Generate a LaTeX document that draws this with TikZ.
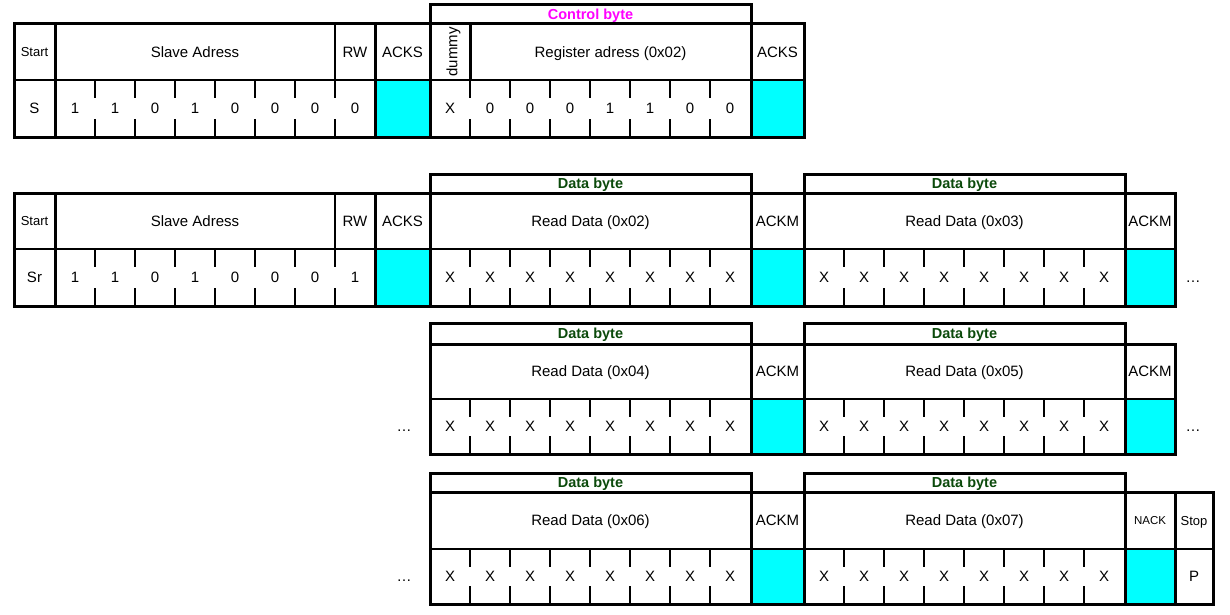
\documentclass[tikz,border=0pt]{standalone}
\usepackage{fontspec}
\setmainfont{Liberation Sans}
\definecolor{ackcyan}{HTML}{00FFFF}
\definecolor{ctrlmag}{HTML}{FF00FF}
\definecolor{datagreen}{HTML}{0B4A0B}
\tikzset{
  thk/.style={line width=3pt},
  med/.style={line width=2.2pt},
  thn/.style={line width=1.6pt},
  ackfill/.style={fill=ackcyan},
  txt/.style={font=\fontsize{15}{18}\selectfont, inner sep=0pt, text height=10.7pt, text depth=0pt},
  smalltxt/.style={txt, font=\fontsize{13}{15}\selectfont, text height=9.3pt},
  tinytxt/.style={txt, font=\fontsize{11.5}{14}\selectfont, text height=8.2pt},
  bytelbl/.style={font=\bfseries\fontsize{14.5}{16}\selectfont, inner sep=0pt, text height=10.4pt, text depth=0pt},
  ctrllbl/.style={bytelbl, text=ctrlmag},
  datalbl/.style={bytelbl, text=datagreen},
}
% #1 x0, #2 B, #3 E : ticks of an 8-bit field
\newcommand{\bitticks}[3]{%
  \foreach \k in {1,...,7} {
    \draw[thn] ({#1+40*\k},#2) -- ++(0,18);
    \draw[thn] ({#1+40*\k},#3) -- ++(0,-18);
  }}
% #1 x0, #2 L, #3 H, #4 B, #5 E, #6 name, #7 title
\newcommand{\databyte}[7]{%
  \draw[thk] (#1,#2) rectangle ({#1+321},#3);
  \node[datalbl] (#6lbl) at ({#1+160.5},{(#2+#3)/2}) {Data byte};
  \node[txt] (#6title) at ({#1+160.5},{(#3+#4)/2}) {#7};
  \bitticks{#1}{#4}{#5}
  \foreach \k in {1,...,8} \node[txt] (#6b\k) at ({#1+40*\k-20},{(#4+#5)/2}) {X};
}
\begin{document}
\begin{tikzpicture}[x=1pt,y=-1pt]
\useasboundingbox (0,0) rectangle (1230,615);
\fill[white] (0,0) rectangle (1230,615);

% ================= Row 1 (write) L=5 H=24 B=80 E=137
\fill[ackfill] (375,80) rectangle (430,137);
\fill[ackfill] (751,80) rectangle (804,137);
\draw[med] (14,80) -- (804,80);
\draw[thk] (14,24) rectangle (804,137);
\draw[thk] (430,5) rectangle (751,24);
\draw[thk] (55,24) -- (55,137);
\draw[thn] (335,24) -- (335,80);
\draw[thk] (375,24) -- (375,137);
\draw[thk] (430,24) -- (430,137);
\draw[thk] (470,24) -- (470,80);
\draw[thk] (751,24) -- (751,137);
\bitticks{55}{80}{137}
\bitticks{430}{80}{137}
\node[ctrllbl] (r1ctrl) at (590.5,14.5) {Control byte};
\node[smalltxt] (r1start) at (34.5,52) {Start};
\node[txt] (r1addr) at (195,52) {Slave Adress};
\node[txt] (r1rw) at (355,52) {RW};
\node[txt] (r1acks) at (402.5,52) {ACKS};
\node[txt, rotate=90] (r1dummy) at (452,52) {dummy};
\node[txt] (r1reg) at (610.5,52) {Register adress (0x02)};
\node[txt] (r1acks2) at (777.5,52) {ACKS};
\node[txt] (r1s) at (34.5,108.5) {S};
\foreach \v [count=\k] in {1,1,0,1,0,0,0,0}
  \node[txt] (r1a\k) at ({35+40*\k},108.5) {\v};
\node[txt] (r1d) at (450,108.5) {X};
\foreach \v [count=\k] in {0,0,0,1,1,0,0}
  \node[txt] (r1r\k) at ({450+40*\k},108.5) {\v};

% ================= Row 2 (read) L=174 H=193 B=249 E=306
\fill[ackfill] (375,249) rectangle (430,306);
\fill[ackfill] (751,249) rectangle (804,306);
\fill[ackfill] (1125,249) rectangle (1175,306);
\draw[med] (14,249) -- (1175,249);
\draw[thk] (14,193) rectangle (1175,306);
\draw[thk] (55,193) -- (55,306);
\draw[thn] (335,193) -- (335,249);
\draw[thk] (375,193) -- (375,306);
\draw[thk] (430,193) -- (430,306);
\draw[thk] (751,193) -- (751,306);
\draw[thk] (804,193) -- (804,306);
\draw[thk] (1125,193) -- (1125,306);
\bitticks{55}{249}{306}
\node[smalltxt] (r2start) at (34.5,221) {Start};
\node[txt] (r2addr) at (195,221) {Slave Adress};
\node[txt] (r2rw) at (355,221) {RW};
\node[txt] (r2acks) at (402.5,221) {ACKS};
\node[txt] (r2sr) at (34.5,277.5) {Sr};
\foreach \v [count=\k] in {1,1,0,1,0,0,0,1}
  \node[txt] (r2a\k) at ({35+40*\k},277.5) {\v};
\databyte{430}{174}{193}{249}{306}{r2x}{Read Data (0x02)}
\node[txt] (r2ackm1) at (777.5,221) {ACKM};
\databyte{804}{174}{193}{249}{306}{r2y}{Read Data (0x03)}
\node[txt] (r2ackm2) at (1150,221) {ACKM};
\node[txt] (r2dots) at (1193,277.5) {…};

% ================= Row 3 L=323 H=344 B=399 E=454
\fill[ackfill] (751,399) rectangle (804,454);
\fill[ackfill] (1125,399) rectangle (1175,454);
\draw[med] (430,399) -- (1175,399);
\draw[thk] (430,344) rectangle (1175,454);
\draw[thk] (751,344) -- (751,454);
\draw[thk] (804,344) -- (804,454);
\draw[thk] (1125,344) -- (1125,454);
\databyte{430}{323}{344}{399}{454}{r3x}{Read Data (0x04)}
\node[txt] (r3ackm1) at (777.5,371.5) {ACKM};
\databyte{804}{323}{344}{399}{454}{r3y}{Read Data (0x05)}
\node[txt] (r3ackm2) at (1150,371.5) {ACKM};
\node[txt] (r3dotsl) at (404,426.5) {…};
\node[txt] (r3dotsr) at (1193,426.5) {…};

% ================= Row 4 L=473 H=492 B=549 E=604
\fill[ackfill] (751,549) rectangle (804,604);
\fill[ackfill] (1125,549) rectangle (1175,604);
\draw[med] (430,549) -- (1213,549);
\draw[thk] (430,492) rectangle (1213,604);
\draw[thk] (751,492) -- (751,604);
\draw[thk] (804,492) -- (804,604);
\draw[thk] (1125,492) -- (1125,604);
\draw[thk] (1175,492) -- (1175,604);
\databyte{430}{473}{492}{549}{604}{r4x}{Read Data (0x06)}
\node[txt] (r4ackm1) at (777.5,520.5) {ACKM};
\databyte{804}{473}{492}{549}{604}{r4y}{Read Data (0x07)}
\node[tinytxt] (r4nack) at (1150,520.5) {NACK};
\node[smalltxt] (r4stop) at (1194,520.5) {Stop};
\node[txt] (r4p) at (1194,576.5) {P};
\node[txt] (r4dots) at (404,576.5) {…};
\end{tikzpicture}
\end{document}
